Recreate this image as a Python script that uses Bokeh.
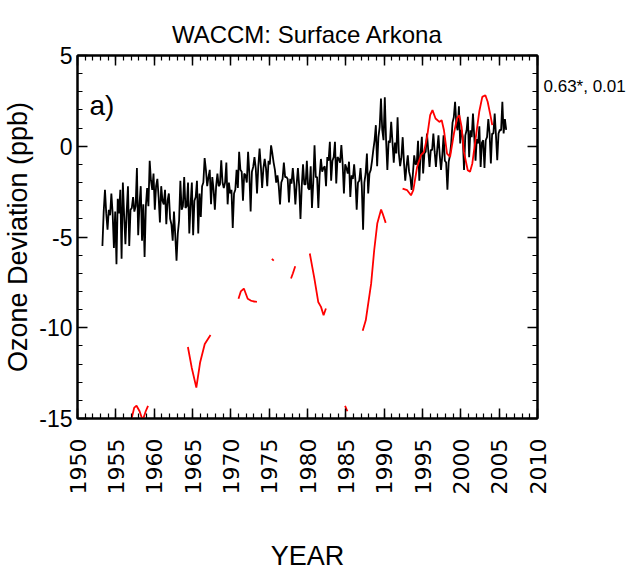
from math import pi
from bokeh.plotting import figure
from bokeh.models import (Range1d, LinearAxis, Label, SingleIntervalTicker, FixedTicker,
                          ColumnDataSource, PrintfTickFormatter, CustomJSTickFormatter)
from bokeh.embed import file_html
from bokeh.resources import INLINE

# ---------------- data ----------------
TITLE = "WACCM: Surface Arkona"
PANEL = "a)"
STATS = "0.63*, 0.01"
X_LABEL = "YEAR"
Y_LABEL = "Ozone Deviation (ppb)"

# WACCM surface ozone deviation, 6 values per year starting 1953.25
waccm_start = 1953.25
waccm_per_year = 6
waccm_1953_1962 = [
    -5.5, -3.6, -2.4, -3.7, -4.6, -3.5,
    -3.8, -2.6, -3.7, -5.6, -3.6, -6.5,
    -2.9, -3.7, -2.4, -6.2, -2.0, -3.8,
    -5.4, -3.6, -2.2, -5.5, -3.5, -3.4,
    -2.8, -3.6, -3.3, -1.2, -4.9, -3.2,
    -2.2, -5.2, -3.2, -6.1, -3.3, -2.3,
    -3.3, -0.8, -1.9, -2.4, -1.5, -3.5,
    -2.2, -1.8, -2.8, -4.2, -2.2, -3.0,
    -3.2, -2.4, -4.3, -3.0, -2.6, -4.0,
    -4.3, -5.2, -3.6, -4.9, -6.3, -4.8,
]
waccm_1963_1972 = [
    -4.1, -1.9, -3.5, -3.3, -1.7, -3.4,
    -3.3, -2.0, -4.8, -3.2, -2.0, -4.9,
    -3.0, -2.8, -1.9, -4.8, -2.6, -3.9,
    -2.2, -2.0, -0.65, -1.3, -2.2, -1.7,
    -1.3, -3.2, -1.7, -2.4, -3.5, -2.2,
    -1.5, -2.2, -2.1, -0.77, -2.0, -2.3,
    -2.0, -0.9, -3.2, -2.0, -2.6, -2.4,
    -4.5, -2.6, -2.4, -1.3, -2.3, -0.3,
    -1.3, -1.4, -3.0, -1.5, -1.6, -2.0,
    -0.3, -1.5, -3.6, -1.4, -1.14, -0.6,
]
waccm_1973_1982 = [
    -1.2, -2.6, -1.1, -0.13, -1.1, -2.3,
    -1.2, -0.7, -1.2, -2.2, -0.8, -1.0,
    0.05, -0.4, -0.9, -1.3, -2.0, -1.6,
    -2.2, -3.2, -2.0, -1.8, -0.9, -1.7,
    -1.7, -1.8, -3.1, -1.8, -2.06, -1.2,
    -2.0, -3.2, -2.1, -1.2, -2.2, -4.0,
    -2.2, -1.0, -2.1, -2.1, -0.8, -2.3,
    -2.4, -1.1, -3.4, -2.0, 0.06, -1.7,
    -1.7, -3.4, -1.6, -0.7, -1.4, -1.2,
    -1.1, -2.2, -0.6, -0.8, 0.24, -1.9,
]
waccm_1983_1992 = [
    -0.8, -0.6, 0.24, -2.05, -0.6, -0.7,
    -0.9, 0.06, -0.95, -2.6, -1.0, -1.2,
    -1.5, -0.85, -2.8, -1.6, -1.8, -1.0,
    -1.87, -3.5, -2.0, -1.9, -1.2, -2.2,
    -4.6, -2.0, -1.5, -0.4, -2.6, -1.5,
    -1.3, -0.8, -0.2, 0.33, 1.16, -1.1,
    0.5, 1.07, 2.63, 0.9, 0.33, 2.7,
    0.33, -1.3, 0.3, 0.2, 1.34, 0.24,
    -0.9, 0.2, -0.4, 1.6, -0.4, -1.1,
    -0.6, 0.5, -0.9, -1.9, -1.1, -0.5,
]
waccm_1993_2005 = [
    -1.4, -1.7, -2.4, -1.5, -0.5, -1.0,
    -0.95, 0.3, -1.9, -0.4, 0.52, -1.5,
    -0.4, -0.3, 0.7, -0.22, -1.14, -0.2,
    -0.22, 0.7, -0.3, -1.14, -0.2, 0.6,
    -0.49, -1.3, -0.5, 0.6, -0.8, -0.9,
    -2.4, -0.86, -0.5, 0.2, 1.3, 1.6,
    2.45, 1.2, 0.88, 2.2, 0.15, 0.9,
    0.52, -1.3, 0.6, 0.88, 1.62, -0.6,
    0.88, 0.5, 1.8, 0.52, -0.8, 0.4,
    0.15, 1.1, -1.14, 0.2, 0.33, -1.2,
    0.33, 0.5, 1.5, 0.7, -0.95, 0.7,
    0.7, 1.8, 0.6, -0.77, 0.7, 0.9,
    0.88, 2.45, 0.7, 1.5, 0.9,
]

# Observed (red) smoothed deviation, pieces with gaps
obs_p1_x = [1957.0, 1957.4, 1957.7, 1958.1, 1958.5, 1958.9, 1959.2]
obs_p1_y = [-15.1, -14.4, -14.3, -14.6, -15.1, -14.6, -14.3]
obs_p2_x = [1964.4, 1964.9, 1965.5, 1966.0, 1966.6, 1967.35]
obs_p2_y = [-11.06, -12.2, -13.3, -11.9, -10.9, -10.4]
obs_p3_x = [1971.0, 1971.3, 1971.7, 1972.2, 1972.6, 1972.9, 1973.4]
obs_p3_y = [-8.4, -8.0, -7.84, -8.4, -8.5, -8.54, -8.58]
obs_p4_x = [1975.35, 1975.6]
obs_p4_y = [-6.2, -6.3]
obs_p5_x = [1977.85, 1978.1, 1978.4]
obs_p5_y = [-7.29, -7.0, -6.61]
obs_p6_x = [1980.3, 1980.9, 1981.4, 1981.76, 1982.1, 1982.4]
obs_p6_y = [-5.91, -7.29, -8.58, -8.85, -9.31, -8.94]
obs_p7_x = [1984.9, 1985.2]
obs_p7_y = [-14.3, -14.6]
obs_p8_x = [1987.2, 1987.6, 1988.3, 1988.7, 1989.1, 1989.6, 1989.8, 1990.2]
obs_p8_y = [-10.17, -9.59, -7.57, -5.73, -4.26, -3.49, -3.71, -4.22]
obs_p9_x = [1992.4, 1993.0, 1993.5, 1993.8, 1994.3, 1994.8, 1995.2, 1995.6, 1996.0,
            1996.3, 1996.7, 1997.2, 1997.5, 1997.8, 1998.2, 1998.6, 1999.1, 1999.5,
            1999.8, 2000.1, 2000.4, 2000.9, 2001.2, 2001.5, 2001.9, 2002.4, 2002.8,
            2003.2, 2003.5, 2003.9, 2004.1]
obs_p9_y = [-2.33, -2.42, -2.7, -2.42, -1.14, -0.49, -0.31, 0.52, 1.71,
            1.99, 1.53, 1.34, 1.44, 0.88, -0.4, -0.58, 0.7, 1.53,
            1.71, 1.07, -0.31, -1.32, -1.41, -0.95, 0.33, 1.9, 2.72,
            2.81, 2.45, 1.62, 1.16]

x_tick_step = 5
y_tick_step = 5
x_limits = (1950, 2010)
y_limits = (-15, 5)
stats_at = [3.28]   # y level of the statistics text on the right

# ---------------- build ----------------
waccm = waccm_1953_1962 + waccm_1963_1972 + waccm_1973_1982 + waccm_1983_1992 + waccm_1993_2005
waccm_x = [waccm_start + i / waccm_per_year for i in range(len(waccm))]

obs_pieces = [(obs_p1_x, obs_p1_y), (obs_p2_x, obs_p2_y), (obs_p3_x, obs_p3_y),
              (obs_p4_x, obs_p4_y), (obs_p5_x, obs_p5_y), (obs_p6_x, obs_p6_y),
              (obs_p7_x, obs_p7_y), (obs_p8_x, obs_p8_y), (obs_p9_x, obs_p9_y)]
obs_x, obs_y = [], []
for xs, ys in obs_pieces:
    obs_x += list(xs) + [float("nan")]
    obs_y += list(ys) + [float("nan")]

W, H = 630, 575
FL, FT, FW, FH = 76, 55, 461, 363

p = figure(width=W, height=H,
           x_range=Range1d(*x_limits), y_range=Range1d(*y_limits),
           output_backend="svg", toolbar_location=None,
           x_axis_location=None, y_axis_location=None,
           min_border_left=FL, min_border_right=W - FL - FW,
           min_border_top=FT, min_border_bottom=H - FT - FH)
p.background_fill_color = "white"
p.border_fill_color = "white"
p.outline_line_color = "black"
p.outline_line_width = 2
p.xgrid.visible = False
p.ygrid.visible = False

p.title.text = TITLE
p.title.align = "center"
p.title.text_font = "Liberation Sans"
p.title.text_font_size = "24px"
p.title.text_font_style = "normal"
p.title.text_color = "black"
p.title.standoff = 16

blank = CustomJSTickFormatter(code="return '';")

def style_axis(ax, font="Liberation Sans", size="22px"):
    ax.axis_line_color = "black"
    ax.axis_line_width = 2
    ax.major_tick_line_color = "black"
    ax.minor_tick_line_color = "black"
    ax.major_tick_line_width = 1.5
    ax.minor_tick_line_width = 1.2
    ax.major_tick_in = 10
    ax.major_tick_out = 0
    ax.minor_tick_in = 5
    ax.minor_tick_out = 0
    ax.major_label_text_color = "black"
    ax.major_label_text_font = font
    ax.major_label_text_font_size = size
    ax.axis_label_text_font_style = "normal"
    ax.axis_label_text_color = "black"

bottom = LinearAxis(ticker=SingleIntervalTicker(interval=x_tick_step, num_minor_ticks=5),
                    formatter=PrintfTickFormatter(format="%d"))
style_axis(bottom, "DejaVu Sans", "22px")
bottom.major_label_orientation = pi / 2
bottom.major_label_standoff = 20
bottom.axis_label = X_LABEL
bottom.axis_label_text_font = "Liberation Sans"
bottom.axis_label_text_font_size = "27px"
bottom.axis_label_standoff = 44
p.add_layout(bottom, "below")

top = LinearAxis(ticker=SingleIntervalTicker(interval=x_tick_step, num_minor_ticks=5),
                 formatter=blank)
style_axis(top)
top.major_label_standoff = 0
p.add_layout(top, "above")

left = LinearAxis(ticker=SingleIntervalTicker(interval=y_tick_step, num_minor_ticks=5),
                  formatter=PrintfTickFormatter(format="%d"))
style_axis(left, "Liberation Sans", "23px")
left.major_label_standoff = 5
left.axis_label = Y_LABEL
left.axis_label_text_font = "Liberation Sans"
left.axis_label_text_font_size = "27px"
left.axis_label_standoff = 3
p.add_layout(left, "left")

right = LinearAxis(ticker=SingleIntervalTicker(interval=y_tick_step, num_minor_ticks=5),
                   formatter=blank)
style_axis(right)
right.major_label_standoff = 0
p.add_layout(right, "right")

stats_axis = LinearAxis(ticker=FixedTicker(ticks=stats_at, minor_ticks=[]),
                        formatter=CustomJSTickFormatter(args=dict(label=STATS), code="return label;"))
stats_axis.axis_line_color = None
stats_axis.major_tick_line_color = None
stats_axis.minor_tick_line_color = None
stats_axis.major_tick_in = 0
stats_axis.major_tick_out = 0
stats_axis.major_label_standoff = 6
stats_axis.major_label_text_font = "Liberation Sans"
stats_axis.major_label_text_font_size = "17px"
stats_axis.major_label_text_color = "black"
p.add_layout(stats_axis, "right")

src_w = ColumnDataSource(dict(x=waccm_x, y=waccm))
p.line("x", "y", source=src_w, line_color="black", line_width=1.8)
src_o = ColumnDataSource(dict(x=obs_x, y=obs_y))
p.line("x", "y", source=src_o, line_color="#ff0000", line_width=1.8)

p.add_layout(Label(x=1951.56, y=2.26, text=PANEL, text_align="left",
                   text_baseline="alphabetic", text_font="Liberation Sans",
                   text_font_size="28px", text_color="black"))

open("out.html", "w").write(file_html(p, INLINE))
